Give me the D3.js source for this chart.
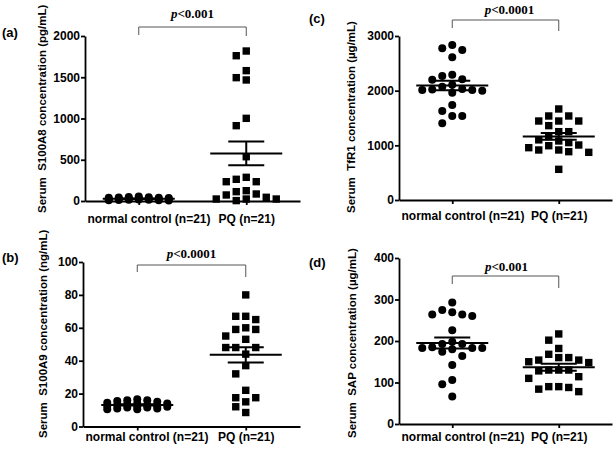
<!DOCTYPE html>
<head>
<meta charset="utf-8">
<style>
  body { margin: 0; background: #fff; }
  svg { display: block; }
  .axis path, .axis line { stroke: #000; stroke-width: 1.8; }
  .axis text { font-family: "Liberation Sans", Arial, sans-serif; font-weight: bold; font-size: 12px; fill: #000; }
  .ytitle { font-family: "Liberation Sans", Arial, sans-serif; font-weight: bold; font-size: 11.5px; white-space: pre; }
  .plabel { font-family: "Liberation Serif", "Times New Roman", serif; font-weight: bold; font-size: 13px; }
  .panel { font-family: "Liberation Sans", Arial, sans-serif; font-weight: bold; font-size: 13px; }
</style>
</head>
<body>
<div id="chart"></div>
<script src="https://d3js.org/d3.v7.min.js"></script>
<script>
// groups on the x axis
var groups = ["normal control (n=21)", "PQ (n=21)"];

// (a) S100A8, pg/mL
var s100a8Control = [55, 50, 45, 42, 40, 38, 35, 33, 30, 28, 26, 25, 22, 20, 18, 15, 14, 12, 10, 8, 5];
var s100a8PQ = [1818, 1761, 1580, 1467, 1495, 1002, 913, 537, 287, 234, 234, 263, 125, 113, 85, 45, 24, 5, 24, 24, 73];
var s100a8Ticks = [0, 500, 1000, 1500, 2000];

// (b) S100A9, ng/mL
var s100a9Control = [16.5, 16, 15.5, 15, 14.5, 14, 14, 13.5, 13, 13, 12.5, 12.5, 12, 12, 11.5, 11.5, 11, 11, 10.5, 10.5, 16];
var s100a9PQ = [80, 67, 67, 65, 60, 59, 59, 55, 53, 48, 48, 48, 44, 37, 32, 22, 17.5, 17.5, 15, 12, 8.5];
var s100a9Ticks = [0, 20, 40, 60, 80, 100];

// (c) TfR1, µg/mL
var tfr1Control = [2835, 2775, 2744, 2610, 2290, 2270, 2210, 2200, 2110, 2070, 2030, 2020, 2010, 2010, 2000, 1960, 1738, 1628, 1537, 1537, 1403];
var tfr1PQ = [1665, 1537, 1537, 1445, 1445, 1445, 1360, 1250, 1250, 1160, 1100, 1080, 1050, 993, 1006, 915, 884, 872, 915, 957, 561];
var tfr1Ticks = [0, 1000, 2000, 3000];

// (d) SAP, µg/mL
var sapControl = [293, 275, 264, 260, 264, 269, 226, 193, 193, 198, 183, 183, 180, 185, 183, 174, 164, 142, 106, 96, 66];
var sapPQ = [217, 202, 182, 168, 160, 160, 154, 154, 150, 148, 128, 130, 130, 130, 114, 110, 90, 88, 90, 84, 78];
var sapTicks = [0, 100, 200, 300, 400];

var panels = [
    {tag: "(a)", title: "Serum  S100A8 concentration (pg/mL)", p: "<0.001",
     control: s100a8Control, pq: s100a8PQ, ticks: s100a8Ticks,
     x0: 85, x1: 300, yTop: 36, yBot: 201, tagX: 2, tagY: 37, titleX: 46, titleY: 213,
     labDy: 21, brTop: 27, brL: 35, brR: 36, pY: 18, pDx: 0},
    {tag: "(b)", title: "Serum  S100A9 concentration (ng/mL)", p: "<0.0001",
     control: s100a9Control, pq: s100a9PQ, ticks: s100a9Ticks,
     x0: 83, x1: 300, yTop: 262, yBot: 426.5, tagX: 2, tagY: 262, titleX: 47, titleY: 438,
     labDy: 14, brTop: 265, brL: 272, brR: 277, pY: 258, pDx: 0},
    {tag: "(c)", title: "Serum  TfR1 concentration (µg/mL)", p: "<0.0001",
     control: tfr1Control, pq: tfr1PQ, ticks: tfr1Ticks,
     x0: 399, x1: 612, yTop: 36, yBot: 200, tagX: 309, tagY: 23, titleX: 355, titleY: 213,
     labDy: 19, brTop: 20, brL: 28, brR: 31, pY: 14, pDx: 4},
    {tag: "(d)", title: "Serum  SAP concentration (µg/mL)", p: "<0.001",
     control: sapControl, pq: sapPQ, ticks: sapTicks,
     x0: 399, x1: 612, yTop: 258, yBot: 424, tagX: 309, tagY: 267, titleX: 356, titleY: 438,
     labDy: 16, brTop: 276, brL: 284, brR: 288, pY: 271, pDx: 1}
];

var svg = d3.select("#chart").append("svg")
    .attr("width", 614)
    .attr("height", 450);

// lay points on a 10px grid, highest first, letting them overlap when the row is full
function swarm(vals, y, pitch, minDist) {
    var offs = [0, -1, 1, -2, 2, -3, 3].map(function(k) { return k * pitch; });
    var placed = [];
    vals.slice().sort(function(a, b) { return b - a; }).forEach(function(v) {
        var py = y(v), best = 0, bestD = -1;
        for (var i = 0; i < offs.length; i++) {
            var d = Infinity;
            placed.forEach(function(p) { d = Math.min(d, Math.hypot(p.dx - offs[i], p.y - py)); });
            if (d >= minDist) { best = offs[i]; break; }
            if (d > bestD) { bestD = d; best = offs[i]; }
        }
        placed.push({v: v, dx: best, y: py});
    });
    return placed;
}

panels.forEach(function(P) {
    var g = svg.append("g");

    var x = d3.scalePoint().domain(groups).range([P.x0, P.x1]).padding(0.5);
    var y = d3.scaleLinear().domain([0, d3.max(P.ticks)]).range([P.yBot, P.yTop]);

    // y axis
    g.append("g")
        .attr("class", "axis")
        .attr("transform", "translate(" + P.x0 + ",0)")
        .call(d3.axisLeft(y).tickValues(P.ticks).tickFormat(d3.format("d"))
            .tickSize(4).tickSizeOuter(0).tickPadding(1));

    // x axis
    var xa = g.append("g")
        .attr("class", "axis")
        .attr("transform", "translate(0," + P.yBot + ")")
        .call(d3.axisBottom(x).tickSize(4).tickSizeOuter(0).tickPadding(P.labDy - 12));

    // keep the long label from running past the y axis
    xa.selectAll(".tick").each(function(d) {
        var t = d3.select(this).select("text");
        var w = t.node().getComputedTextLength();
        var left = x(d) - w / 2;
        if (left < P.x0 + 2) t.attr("x", P.x0 + 2 - left);
    });

    // y title
    g.append("text")
        .attr("class", "ytitle")
        .attr("transform", "translate(" + P.titleX + "," + P.titleY + ") rotate(-90)")
        .attr("text-anchor", "start")
        .text(P.title);

    // panel tag
    g.append("text")
        .attr("class", "panel")
        .attr("x", P.tagX)
        .attr("y", P.tagY)
        .text(P.tag);

    // significance bracket
    var cx0 = x(groups[0]), cx1 = x(groups[1]);
    g.append("path")
        .attr("d", "M" + cx0 + "," + P.brL + "V" + P.brTop + "H" + cx1 + "V" + P.brR)
        .attr("fill", "none")
        .attr("stroke", "#555")
        .attr("stroke-width", 1);

    var pt = g.append("text")
        .attr("class", "plabel")
        .attr("x", (cx0 + cx1) / 2 + P.pDx)
        .attr("y", P.pY)
        .attr("text-anchor", "middle");
    pt.append("tspan").attr("font-style", "italic").text("p");
    pt.append("tspan").text(P.p);

    // points
    [P.control, P.pq].forEach(function(vals, gi) {
        var cx = x(groups[gi]);
        var pts = swarm(vals, y, 10, 9);
        if (gi === 0) {
            g.selectAll(".dot" + gi).data(pts).enter().append("circle")
                .attr("cx", function(d) { return cx + d.dx; })
                .attr("cy", function(d) { return d.y; })
                .attr("r", 4)
                .attr("fill", "#000");
        } else {
            g.selectAll(".sq" + gi).data(pts).enter().append("rect")
                .attr("x", function(d) { return cx + d.dx - 3.7; })
                .attr("y", function(d) { return d.y - 3.7; })
                .attr("width", 7.4)
                .attr("height", 7.4)
                .attr("fill", "#000");
        }

        // mean and SEM
        var m = d3.mean(vals);
        var sem = d3.deviation(vals) / Math.sqrt(vals.length);
        var ebar = g.append("g").attr("stroke", "#000").attr("stroke-width", 2);
        ebar.append("line").attr("x1", cx - 36).attr("x2", cx + 36).attr("y1", y(m)).attr("y2", y(m));
        ebar.append("line").attr("x1", cx - 18).attr("x2", cx + 18).attr("y1", y(m + sem)).attr("y2", y(m + sem));
        ebar.append("line").attr("x1", cx - 18).attr("x2", cx + 18).attr("y1", y(m - sem)).attr("y2", y(m - sem));
        ebar.append("line").attr("x1", cx).attr("x2", cx).attr("y1", y(m + sem)).attr("y2", y(m - sem));
    });
});
</script>
</body>
